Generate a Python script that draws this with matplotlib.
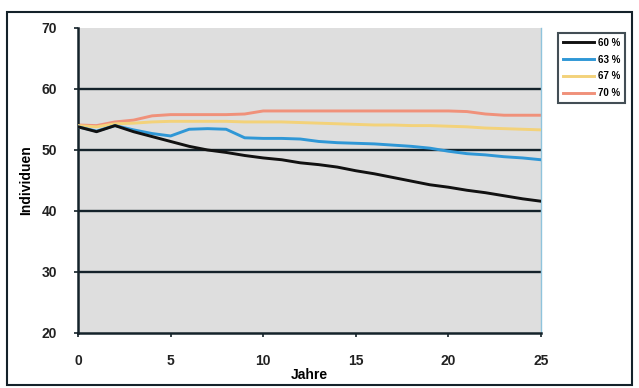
import numpy as np
import matplotlib.pyplot as plt
from matplotlib.patches import Rectangle

plt.rcParams['font.family'] = ['Liberation Sans', 'DejaVu Sans']

jahre = list(range(26))

s60 = [53.8, 53.0, 54.0, 53.0, 52.2, 51.4, 50.6, 50.0, 49.6, 49.1, 48.7, 48.4, 47.9,
       47.6, 47.2, 46.6, 46.1, 45.5, 44.9, 44.3, 43.9, 43.4, 43.0, 42.5, 42.0, 41.6]
s63 = [53.8, 53.1, 54.0, 53.3, 52.7, 52.3, 53.4, 53.5, 53.4, 52.0, 51.9, 51.9, 51.8,
       51.4, 51.2, 51.1, 51.0, 50.8, 50.6, 50.3, 49.8, 49.4, 49.2, 48.9, 48.7, 48.4]
s67 = [54.0, 53.8, 54.3, 54.4, 54.6, 54.7, 54.7, 54.7, 54.7, 54.6, 54.6, 54.6, 54.5,
       54.4, 54.3, 54.2, 54.1, 54.1, 54.0, 54.0, 53.9, 53.8, 53.6, 53.5, 53.4, 53.3]
s70 = [54.1, 54.0, 54.6, 54.9, 55.6, 55.8, 55.8, 55.8, 55.8, 55.9, 56.4, 56.4, 56.4,
       56.4, 56.4, 56.4, 56.4, 56.4, 56.4, 56.4, 56.4, 56.3, 55.9, 55.7, 55.7, 55.7]

labels = ["60 %", "63 %", "67 %", "70 %"]
colors = ["#111111", "#2f97d6", "#f3d27a", "#f0917a"]

fig = plt.figure(figsize=(6.39, 3.88), dpi=100)
ax = fig.add_axes([78/639, 1 - 333/388, (541 - 78)/639, (333 - 28)/388])
ax.set_facecolor("#dedede")

for y in [30, 40, 50, 60]:
    ax.axhline(y, color="#14222a", lw=1.7, zorder=1)

# draw the 70 % line first so the 60 % line ends up on top
handles = {}
for idx in [3, 2, 1, 0]:
    vals = [s60, s63, s67, s70][idx]
    h, = ax.plot(jahre, vals, color=colors[idx], lw=2.1, zorder=2 + (3 - idx))
    handles[idx] = h

ax.set_xlim(0, 25)
ax.set_ylim(20, 70)
ax.set_xticks([0, 5, 10, 15, 20, 25])
ax.set_yticks([20, 30, 40, 50, 60, 70])
ax.tick_params(labelsize=10, direction="out", length=3, width=1.2, color="#14222a")
ax.tick_params(axis="y", pad=12)
ax.tick_params(axis="x", pad=12)
for t in ax.get_xticklabels() + ax.get_yticklabels():
    t.set_fontweight("bold")
    t.set_color("#222222")

for side in ["left", "bottom"]:
    ax.spines[side].set_color("#14222a")
    ax.spines[side].set_linewidth(1.8)
ax.spines["top"].set_visible(False)
ax.spines["right"].set_color("#8fc4dc")
ax.spines["right"].set_linewidth(1.0)

ax.set_xlabel("Jahre", fontsize=10, fontweight="bold", labelpad=0)
ax.set_ylabel("Individuen", fontsize=10, fontweight="bold", labelpad=6)

leg = fig.legend([handles[i] for i in range(4)], labels, loc="upper left",
                 bbox_to_anchor=(553/639, 1 - 28/388), fontsize=7,
                 frameon=True, fancybox=False, handlelength=3.2,
                 handletextpad=0.4, borderpad=0.5, labelspacing=0.7)
leg.get_frame().set_edgecolor("#14222a")
leg.get_frame().set_linewidth(1.5)
for t in leg.get_texts():
    t.set_fontweight("bold")

fig.patches.append(Rectangle((7/639, 3/388), 625/639, 373/388, transform=fig.transFigure,
                             fill=False, edgecolor="#14222a", lw=1.5))

fig.savefig("out.png", dpi=100)
